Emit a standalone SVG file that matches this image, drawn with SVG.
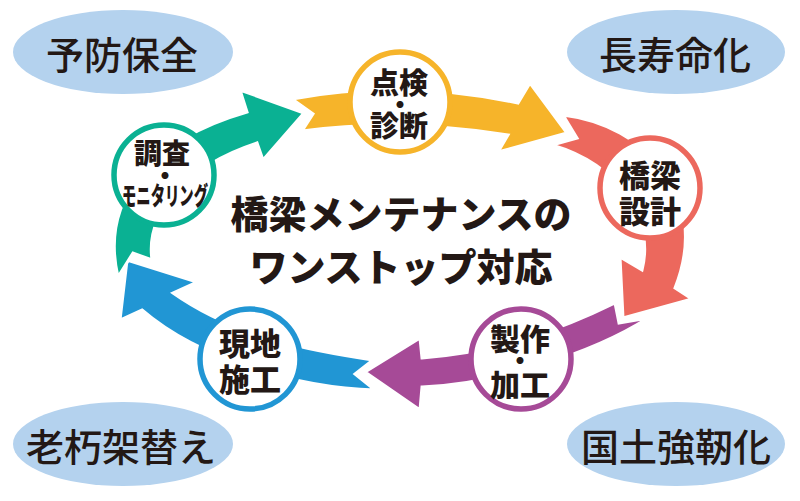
<svg xmlns="http://www.w3.org/2000/svg" width="800" height="501" viewBox="0 0 800 501">
<style>
.ell{fill:#b4d2ee}
.et{font-family:"Noto Sans CJK JP","Noto Sans CJK SC",sans-serif;font-weight:500;font-size:38px;fill:#231815;text-anchor:middle}
.band{stroke:#ffffff;stroke-width:3;stroke-linejoin:miter}
.nc{fill:#ffffff;stroke-width:5.5}
.nt{font-family:"Noto Sans CJK JP","Noto Sans CJK SC",sans-serif;font-weight:900;fill:#231815;text-anchor:middle}
.dot{font-family:"Noto Sans CJK JP","Noto Sans CJK SC",sans-serif;font-weight:900;font-size:25px;fill:#231815;text-anchor:middle}
.ct{font-family:"Noto Sans CJK JP","Noto Sans CJK SC",sans-serif;font-weight:900;font-size:38px;fill:#231815;text-anchor:middle}
</style>
<rect width="800" height="501" fill="#ffffff"/>
<g id="ellipse-yobou">
<ellipse class="ell" cx="123" cy="52" rx="110" ry="42"/>
<text class="et" x="122" y="69">予防保全</text>
</g>
<g id="ellipse-choujumyou">
<ellipse class="ell" cx="676" cy="52" rx="109" ry="42"/>
<text class="et" x="675" y="69">長寿命化</text>
</g>
<g id="ellipse-rouzyuu">
<ellipse class="ell" cx="123" cy="444" rx="110" ry="42"/>
<text class="et" x="121" y="461">老朽架替え</text>
</g>
<g id="ellipse-kokudo">
<ellipse class="ell" cx="676" cy="444" rx="109" ry="42"/>
<text class="et" x="676" y="461">国土強靭化</text>
</g>
<g id="connectors">
<path class="band" fill="#f6b42a" d="M292,99 Q400,78 518,103 L530,83 L567,133 L498,152 L508,135 Q400,118 302,131 L313,114 Z"/>
<path class="band" fill="#ec685d" d="M563,115 C645,125 712,195 675,288 L692,299 L623,318 L620,257 L642,270 C655,220 620,165 552,145 L577,138 Z"/>
<path class="band" fill="#a64a97" d="M615,303 C560,330 500,352 422,358 L420,338 L365,372 L420,410 L422,387 C490,385 590,355 648,318 L619,323 Z"/>
<path class="band" fill="#2196d4" d="M373,360 C320,352 240,340 173,293 L197,282 L127,260 L120,320 L142,310 C200,360 300,388 375,390 L355,374 Z"/>
<path class="band" fill="#0ab193" d="M118,277 C100,200 150,140 247,112 L240,90 L304,113 L263,160 L257,143 C190,165 145,210 152,260 L133,253 Z"/>
</g>
<g id="node-tenken">
<circle class="nc" cx="400" cy="102" r="50" stroke="#f6b42a"/>
<text class="nt" x="399" y="94" font-size="29">点検</text>
<text class="dot" x="400" y="114">・</text>
<text class="nt" x="399" y="137" font-size="29">診断</text>
</g>
<g id="node-sekkei">
<circle class="nc" cx="650" cy="188" r="50" stroke="#ec685d"/>
<text class="nt" x="650" y="187" font-size="31">橋梁</text>
<text class="nt" x="650" y="223" font-size="31">設計</text>
</g>
<g id="node-seisaku">
<circle class="nc" cx="521" cy="359" r="50" stroke="#a64a97"/>
<text class="nt" x="520" y="350" font-size="30">製作</text>
<text class="dot" x="520" y="370">・</text>
<text class="nt" x="520" y="396" font-size="30">加工</text>
</g>
<g id="node-genchi">
<circle class="nc" cx="250" cy="359" r="50" stroke="#2196d4"/>
<text class="nt" x="250" y="355" font-size="31">現地</text>
<text class="nt" x="250" y="391" font-size="31">施工</text>
</g>
<g id="node-chousa">
<circle class="nc" cx="164" cy="175" r="50" stroke="#0ab193"/>
<text class="nt" x="162" y="164" font-size="28">調査</text>
<text class="dot" x="165" y="185">・</text>
<text class="nt" x="165" y="205" font-size="25" textLength="86" lengthAdjust="spacingAndGlyphs">モニタリング</text>
</g>
<g id="title">
<text class="ct" x="401" y="228">橋梁メンテナンスの</text>
<text class="ct" x="401" y="281">ワンストップ対応</text>
</g>
</svg>
